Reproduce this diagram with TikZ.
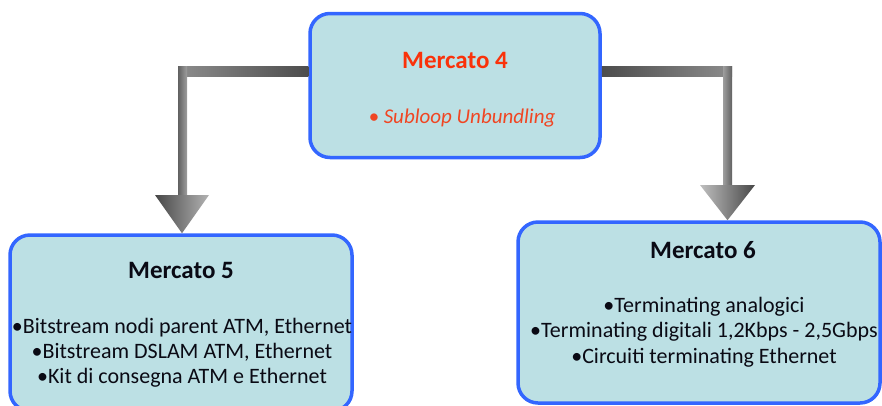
\documentclass[tikz,border=0pt]{standalone}
\usepackage{fontspec}
\setmainfont{Carlito}
\usetikzlibrary{calc}
\definecolor{boxfill}{RGB}{188,224,228}
\definecolor{boxline}{RGB}{51,102,255}
\definecolor{titlered}{RGB}{250,50,10}
\definecolor{itemred}{RGB}{240,70,35}
\definecolor{txt}{RGB}{10,10,20}
\tikzset{
  mbox/.style={draw=boxline, line width=3.5pt, fill=boxfill, rounded corners=20pt, inner sep=0pt},
  title/.style={anchor=base, font=\fontsize{25}{29}\selectfont\bfseries, text=txt, inner sep=0pt},
  item/.style={anchor=base, font=\fontsize{22}{26}\selectfont, text=txt, inner sep=0pt},
}
\begin{document}
\begin{tikzpicture}[x=1pt,y=-1pt]
\useasboundingbox (0,0) rectangle (882,405);
% boxes
\node[mbox, minimum width=290pt, minimum height=144pt] (m4) at (455,85.5) {};
\node[mbox, minimum width=342pt, minimum height=176pt] (m5) at (181,323) {};
\node[mbox, minimum width=362pt, minimum height=181pt] (m6) at (699,312.5) {};
% texts
\node[title, text=titlered] (t4) at (455,68) {Mercato 4};
\node[anchor=base, inner sep=0pt, font=\fontsize{21}{25}\selectfont\itshape, text=itemred] (s4) at (462,123) {\textbullet\ Subloop Unbundling};
\node[title] (t5) at (181,278) {Mercato 5};
\node[item] (a5) at (182,333) {•Bitstream nodi parent ATM, Ethernet};
\node[item] (b5) at (182,358) {•Bitstream DSLAM ATM, Ethernet};
\node[item] (c5) at (182,383) {•Kit di consegna ATM e Ethernet};
\node[title] (t6) at (703,258) {Mercato 6};
\node[item] (a6) at (704,312) {•Terminating analogici};
\node[item] (b6) at (704,337) {•Terminating digitali 1,2Kbps - 2,5Gbps};
\node[item] (c6) at (704,363) {•Circuiti terminating Ethernet};
% left connector
\shade[left color=black!45, middle color=black!20, right color=black!70] (178,66) rectangle (m4.west |- 0,76);
\shade[left color=black!62, right color=black!38] (178,66) rectangle (187,195);
\shade[left color=black!72, right color=black!30] (155,195) -- (209,195) -- (m5.north -| 182,0) -- cycle;
% right connector
\shade[left color=black!70, middle color=black!20, right color=black!45] (m4.east |- 0,66) rectangle (732,76);
\shade[left color=black!38, right color=black!62] (723,66) rectangle (732,185);
\shade[left color=black!25, right color=black!72] (700,185) -- (755,185) -- (m6.north -| 727.5,0) -- cycle;
\end{tikzpicture}
\end{document}
